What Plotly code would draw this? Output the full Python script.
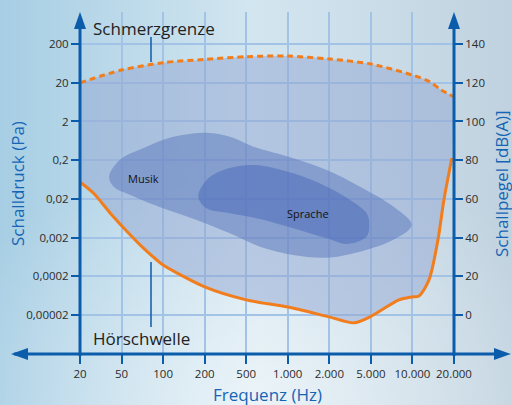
import base64
import numpy as np
import plotly.graph_objects as go

# ---------------- data ----------------
freq_ticks = [20, 50, 100, 200, 500, 1000, 2000, 5000, 10000, 20000]
freq_labels = ["20", "50", "100", "200", "500", "1.000", "2.000", "5.000", "10.000", "20.000"]
db_ticks = [0, 20, 40, 60, 80, 100, 120, 140]
pa_labels = ["0,00002", "0,0002", "0,002", "0,02", "0,2", "2", "20", "200"]
db_labels = ["0", "20", "40", "60", "80", "100", "120", "140"]

hearing_hz = [20, 27, 39, 55, 72, 90, 100, 200, 500, 1003, 1987, 3440, 4900, 7990, 9890, 11150, 13180, 15300, 16900, 19300]
hearing_db = [68.7, 62.9, 52.6, 43.0, 34.5, 28.4, 25.8, 14.5, 7.8, 4.1, -1.0, -4.1, -1.0, 7.8, 9.3, 9.8, 18.1, 38.8, 59.4, 81.1]

pain_hz = [20, 50, 100, 200, 500, 1000, 2000, 5000, 10000, 13300, 16000, 20000]
pain_db = [120, 126.6, 130.4, 132.1, 133.5, 133.8, 132.3, 129.7, 124, 120.6, 116.5, 112.7]

musik_hz = [38, 48, 76, 119, 209, 349, 563, 1096, 1914, 3930, 7270, 9860, 7270, 3930, 1914, 1096, 629, 349, 175, 100, 58, 42]
musik_db = [71.5, 80.1, 87.0, 92.1, 94.2, 92.1, 87.0, 81.0, 74.9, 66.3, 56.0, 46.5, 38.8, 32.7, 29.6, 31.0, 35.3, 42.2, 49.1, 55.1, 62.0, 66.3]

sprache_hz = [180, 209, 301, 563, 1096, 1914, 2980, 4550, 4820, 4550, 2980, 1914, 1096, 629, 349, 209]
sprache_db = [61.1, 69.8, 74.9, 77.5, 73.2, 66.3, 60.3, 52.6, 47.4, 40.5, 36.7, 39.6, 44.8, 49.6, 52.6, 55.1]

# ---------------- helpers ----------------
tick_pos = list(range(len(freq_ticks)))
log_ticks = np.log10(freq_ticks)


def fpos(hz):
    """Frequency (Hz) -> position on the evenly spaced 20-50-100 scale."""
    return np.interp(np.log10(np.asarray(hz, dtype=float)), log_ticks, tick_pos)


def closed(a):
    return list(a) + [a[0]]


W, H = 512, 405
ML, MR, MT, MB = 80, 58, 12, 51
PW, PH = W - ML - MR, H - MT - MB


def px(x):
    return (x - ML) / PW


def py(y):
    return (H - MB - y) / PH


BLUE = "#0b5cab"
TITLE_BLUE = "#1565b4"
ORANGE = "#f27d1c"
FONT = "Open Sans"

fig = go.Figure()

# threshold of hearing (lower boundary of the audible area)
fig.add_trace(go.Scatter(x=fpos(hearing_hz), y=hearing_db, mode="lines",
                         line=dict(width=0, shape="spline", smoothing=0.8),
                         hoverinfo="skip", showlegend=False))
# audible area up to the pain threshold
fig.add_trace(go.Scatter(x=fpos(pain_hz), y=pain_db, mode="lines", fill="tonexty",
                         fillcolor="rgba(146,165,209,0.5)",
                         line=dict(width=0, shape="spline", smoothing=0.8),
                         hoverinfo="skip", showlegend=False))
# Musik
fig.add_trace(go.Scatter(x=fpos(closed(musik_hz)), y=closed(musik_db), mode="lines", fill="toself",
                         fillcolor="rgba(89,119,188,0.5)",
                         line=dict(width=0, shape="spline", smoothing=1.0),
                         hoverinfo="skip", showlegend=False))
# Sprache
fig.add_trace(go.Scatter(x=fpos(closed(sprache_hz)), y=closed(sprache_db), mode="lines", fill="toself",
                         fillcolor="rgba(72,104,184,0.5)",
                         line=dict(width=0, shape="spline", smoothing=1.0),
                         hoverinfo="skip", showlegend=False))
# Hörschwelle line
fig.add_trace(go.Scatter(x=fpos(hearing_hz), y=hearing_db, mode="lines",
                         line=dict(color=ORANGE, width=3, shape="spline", smoothing=0.8),
                         hoverinfo="skip", showlegend=False))
# Schmerzgrenze line
fig.add_trace(go.Scatter(x=fpos(pain_hz), y=pain_db, mode="lines",
                         line=dict(color=ORANGE, width=3, dash="6px,4px", shape="spline", smoothing=0.8),
                         hoverinfo="skip", showlegend=False))
# dummy trace for the right axis
fig.add_trace(go.Scatter(x=[0], y=[0], yaxis="y2", mode="markers", marker=dict(opacity=0),
                         hoverinfo="skip", showlegend=False))

YR = [-20.2, 156.6]

# background gradient
svg = (
    "<svg xmlns='http://www.w3.org/2000/svg' width='512' height='405'>"
    "<defs><linearGradient id='g' x1='0' y1='0' x2='1' y2='0'>"
    "<stop offset='0' stop-color='#a7cee4'/><stop offset='0.5' stop-color='#d3e6f0'/>"
    "<stop offset='1' stop-color='#c0d2df'/></linearGradient>"
    "<radialGradient id='r' cx='0.5' cy='1' r='0.65'>"
    "<stop offset='0' stop-color='#ffffff' stop-opacity='0.55'/>"
    "<stop offset='1' stop-color='#ffffff' stop-opacity='0'/></radialGradient></defs>"
    "<rect width='512' height='405' fill='url(#g)'/>"
    "<rect width='512' height='405' fill='url(#r)'/></svg>"
)
src = "data:image/svg+xml;base64," + base64.b64encode(svg.encode()).decode()

shapes = []
# axis lines
shapes.append(dict(type="line", xref="paper", yref="paper", x0=px(14), x1=px(500), y0=py(354), y1=py(354),
                   line=dict(color=BLUE, width=3)))
for ax_x in (80, 454):
    shapes.append(dict(type="line", xref="paper", yref="paper", x0=px(ax_x), x1=px(ax_x), y0=py(356), y1=py(24),
                       line=dict(color=BLUE, width=3)))
    shapes.append(dict(type="path", xref="paper", yref="paper",
                       path=f"M {px(ax_x)} {py(12)} L {px(ax_x - 6)} {py(29)} L {px(ax_x + 6)} {py(29)} Z",
                       fillcolor=BLUE, line=dict(width=0)))
# horizontal arrow heads
shapes.append(dict(type="path", xref="paper", yref="paper",
                   path=f"M {px(11)} {py(354)} L {px(28)} {py(348)} L {px(28)} {py(360)} Z",
                   fillcolor=BLUE, line=dict(width=0)))
shapes.append(dict(type="path", xref="paper", yref="paper",
                   path=f"M {px(511)} {py(354)} L {px(494)} {py(348)} L {px(494)} {py(360)} Z",
                   fillcolor=BLUE, line=dict(width=0)))
# leader lines
shapes.append(dict(type="line", xref="paper", yref="paper", x0=px(151), x1=px(151), y0=py(37), y1=py(62),
                   line=dict(color=BLUE, width=1.5)))
shapes.append(dict(type="line", xref="paper", yref="paper", x0=px(151), x1=px(151), y0=py(262), y1=py(327),
                   line=dict(color=BLUE, width=1.5)))

annotations = [
    dict(text="Schmerzgrenze", x=px(91), y=py(28), xref="paper", yref="paper", xanchor="left", yanchor="middle",
         showarrow=False, font=dict(family=FONT, size=17, color="#222222")),
    dict(text="Hörschwelle", x=px(91), y=py(338), xref="paper", yref="paper", xanchor="left", yanchor="middle",
         showarrow=False, font=dict(family=FONT, size=17, color="#222222")),
    dict(text="Musik", x=px(143), y=py(178), xref="paper", yref="paper", xanchor="center", yanchor="middle",
         showarrow=False, font=dict(family=FONT, size=11, color="#111111")),
    dict(text="Sprache", x=px(308), y=py(213), xref="paper", yref="paper", xanchor="center", yanchor="middle",
         showarrow=False, font=dict(family=FONT, size=11, color="#111111")),
    dict(text="Frequenz (Hz)", x=px(267), y=py(394), xref="paper", yref="paper", xanchor="center", yanchor="middle",
         showarrow=False, font=dict(family=FONT, size=17, color=TITLE_BLUE)),
    dict(text="Schalldruck (Pa)", x=px(17), y=py(184), xref="paper", yref="paper", xanchor="center", yanchor="middle",
         textangle=-90, showarrow=False, font=dict(family=FONT, size=17, color=TITLE_BLUE)),
    dict(text="Schallpegel [dB(A)]", x=px(501), y=py(184), xref="paper", yref="paper", xanchor="center",
         yanchor="middle", textangle=-90, showarrow=False, font=dict(family=FONT, size=17, color=TITLE_BLUE)),
]

tickfont = dict(family=FONT, size=11.5, color="#2b2b2b")

fig.update_layout(
    width=W, height=H,
    margin=dict(l=ML, r=MR, t=MT, b=MB, pad=0),
    paper_bgcolor="#c8deea",
    plot_bgcolor="#e3edf7",
    showlegend=False,
    font=dict(family=FONT),
    images=[dict(source=src, xref="paper", yref="paper", x=px(0), y=py(0), sizex=W / PW, sizey=H / PH,
                 xanchor="left", yanchor="top", sizing="stretch", layer="below")],
    xaxis=dict(range=[0, 9], tickvals=tick_pos, ticktext=freq_labels, showgrid=True,
               gridcolor="#a3c3e6", gridwidth=1.5, zeroline=False, showline=False,
               ticks="outside", ticklen=9, tickwidth=2, tickcolor=BLUE, tickfont=tickfont,
               fixedrange=True),
    yaxis=dict(range=YR, tickvals=db_ticks, ticktext=pa_labels, showgrid=True,
               gridcolor="#a3c3e6", gridwidth=1.5, zeroline=False, showline=False,
               ticks="outside", ticklen=8, tickwidth=2, tickcolor=BLUE, tickfont=tickfont,
               fixedrange=True),
    yaxis2=dict(range=YR, tickvals=db_ticks, ticktext=db_labels, overlaying="y", side="right",
                showgrid=False, zeroline=False, showline=False,
                ticks="outside", ticklen=8, tickwidth=2, tickcolor=BLUE, tickfont=tickfont,
                fixedrange=True),
    shapes=shapes,
    annotations=annotations,
)

fig.write_html("out.html", config={"displayModeBar": False},
               post_script="document.body.style.margin='0';document.body.style.overflow='hidden';")
